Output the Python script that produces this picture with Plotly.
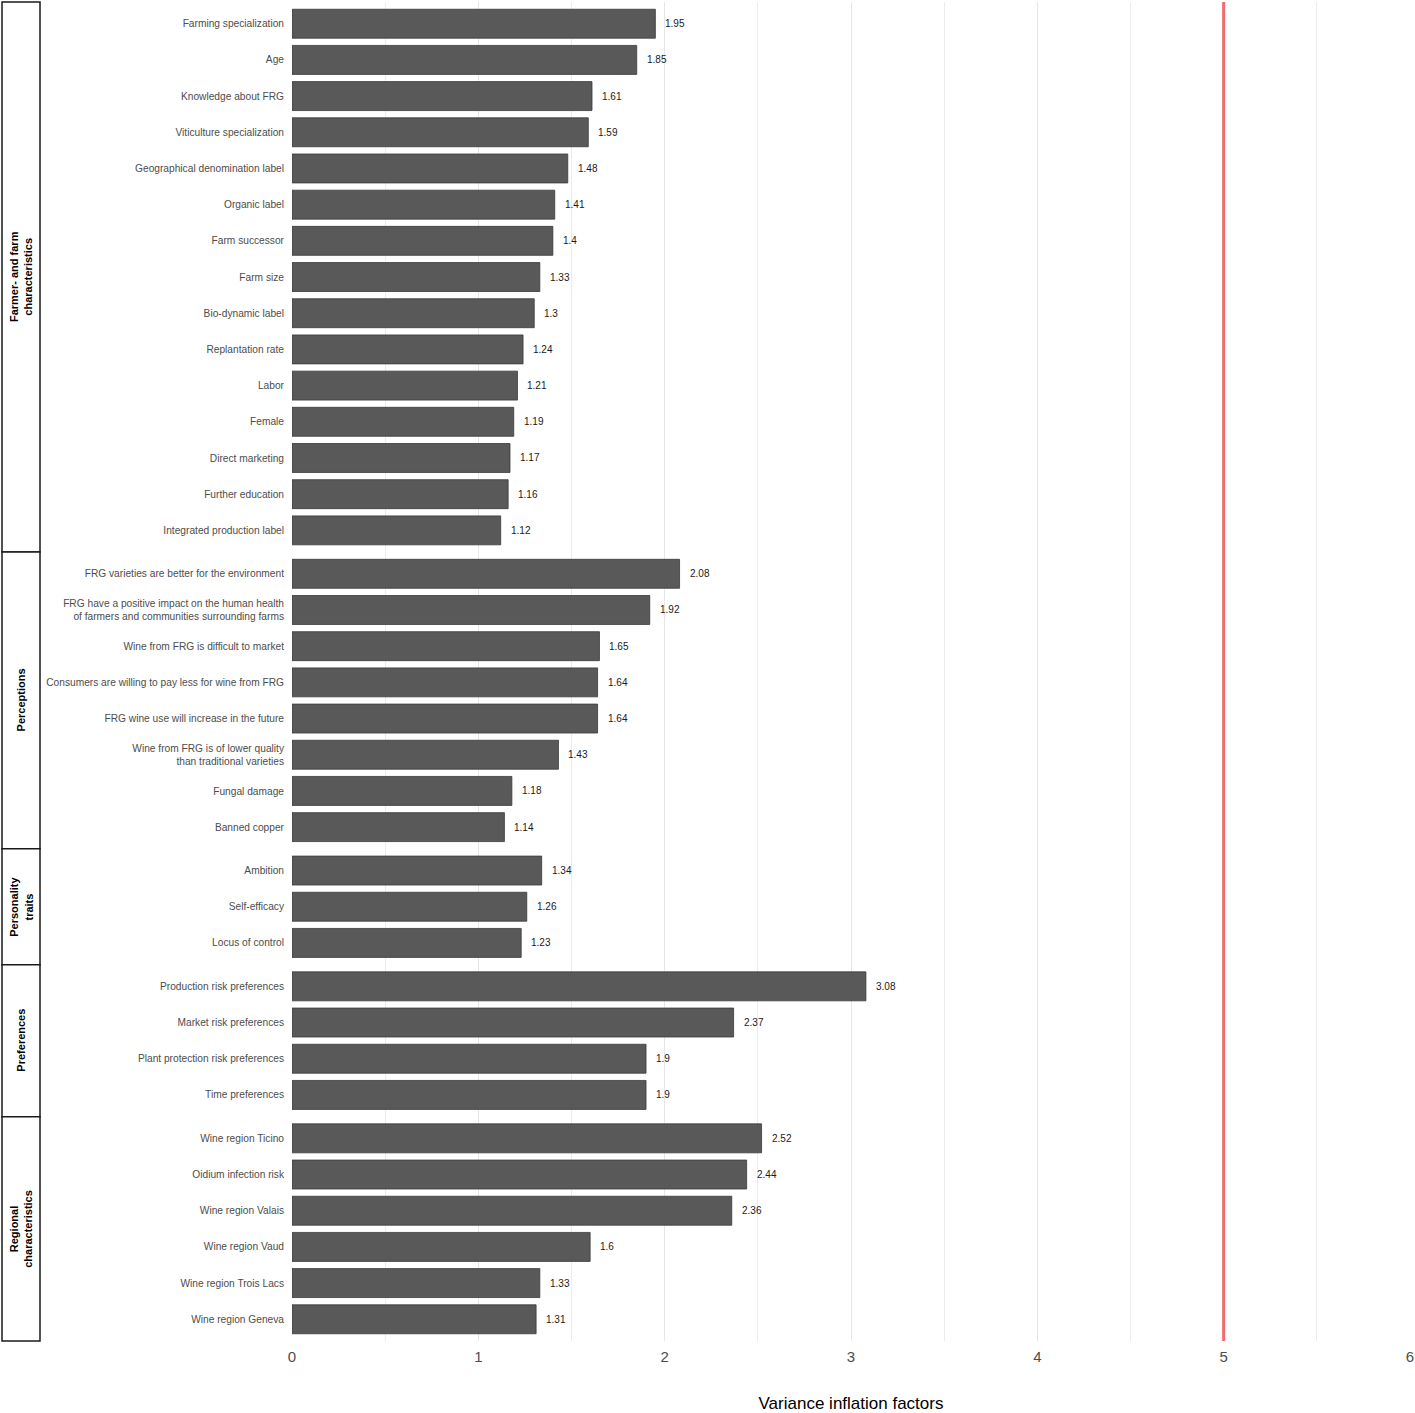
import plotly.graph_objects as go
from plotly.subplots import make_subplots

# ---- data ----
group_names = [
    "Farmer- and farm<br>characteristics",
    "Perceptions",
    "Personality<br>traits",
    "Preferences",
    "Regional<br>characteristics",
]

farm_labels = [
    "Farming specialization", "Age", "Knowledge about FRG", "Viticulture specialization",
    "Geographical denomination label", "Organic label", "Farm successor", "Farm size",
    "Bio-dynamic label", "Replantation rate", "Labor", "Female", "Direct marketing",
    "Further education", "Integrated production label",
]
farm_values = [1.95, 1.85, 1.61, 1.59, 1.48, 1.41, 1.4, 1.33, 1.3, 1.24, 1.21, 1.19, 1.17, 1.16, 1.12]

perc_labels = [
    "FRG varieties are better for the environment",
    "FRG have a positive impact on the human health<br>of farmers and communities surrounding farms",
    "Wine from FRG is difficult to market",
    "Consumers are willing to pay less for wine from FRG",
    "FRG wine use will increase in the future",
    "Wine from FRG is of lower quality<br>than traditional varieties",
    "Fungal damage",
    "Banned copper",
]
perc_values = [2.08, 1.92, 1.65, 1.64, 1.64, 1.43, 1.18, 1.14]

pers_labels = ["Ambition", "Self-efficacy", "Locus of control"]
pers_values = [1.34, 1.26, 1.23]

pref_labels = ["Production risk preferences", "Market risk preferences",
               "Plant protection risk preferences", "Time preferences"]
pref_values = [3.08, 2.37, 1.9, 1.9]

reg_labels = ["Wine region Ticino", "Oidium infection risk", "Wine region Valais",
              "Wine region Vaud", "Wine region Trois Lacs", "Wine region Geneva"]
reg_values = [2.52, 2.44, 2.36, 1.6, 1.33, 1.31]

threshold = 5
x_ticks = [0, 1, 2, 3, 4, 5, 6]

groups = [
    (farm_labels, farm_values),
    (perc_labels, perc_values),
    (pers_labels, pers_values),
    (pref_labels, pref_values),
    (reg_labels, reg_values),
]

# ---- layout geometry ----
W, H = 1415, 1413
ML, MR, MT, MB = 292, 5, 2, 72
plot_w = W - ML - MR

heights = [len(l) + 0.2 for l, _ in groups]
fig = make_subplots(rows=len(groups), cols=1, shared_xaxes=True,
                    vertical_spacing=0, row_heights=heights)

FONT = "Liberation Sans, Arial, sans-serif"
annotations = []
shapes = []

for i, (labels, values) in enumerate(groups, start=1):
    fig.add_trace(go.Bar(
        x=values, y=labels, orientation="h",
        marker=dict(color="#595959", line=dict(color="#3a3a3a", width=0.8)),
        width=0.8, showlegend=False, hoverinfo="x+y",
    ), row=i, col=1)
    n = len(labels)
    yname = "y" if i == 1 else f"y{i}"
    fig.update_yaxes(
        categoryorder="array", categoryarray=labels[::-1],
        range=[-0.6, n - 0.4], showgrid=False, zeroline=False,
        tickfont=dict(size=10.2, color="#4d4d4d", family=FONT),
        ticks="", ticklabelstandoff=7, automargin=False, row=i, col=1,
    )
    for lab, v in zip(labels, values):
        annotations.append(dict(
            x=v, y=lab, xref="x" if i == 1 else f"x{i}", yref=yname,
            text=f"{v:g}", showarrow=False, xanchor="left", xshift=8,
            font=dict(size=10, color="#1a1a1a", family=FONT),
        ))
    # strip box
    x0 = (2 - ML) / plot_w
    x1 = (40 - ML) / plot_w
    shapes.append(dict(type="rect", xref="paper", yref=f"{yname} domain",
                       x0=x0, x1=x1, y0=0, y1=1,
                       line=dict(color="#1a1a1a", width=1.5), fillcolor="white", layer="above"))
    annotations.append(dict(
        x=(x0 + x1) / 2, y=0.5, xref="paper", yref=f"{yname} domain",
        text=f"<b>{group_names[i-1]}</b>", textangle=-90, showarrow=False,
        xanchor="center", yanchor="middle",
        font=dict(size=11, color="#000000", family=FONT),
    ))

fig.update_xaxes(
    range=[0, 6], tickvals=x_ticks, showgrid=True, gridcolor="#e6e6e6", gridwidth=1,
    minor=dict(dtick=0.5, showgrid=True, gridcolor="#ececec", gridwidth=1),
    zeroline=False, ticks="", showline=False, automargin=False,
    tickfont=dict(size=15, color="#4d4d4d", family=FONT),
    ticklabelstandoff=5,
)
fig.update_xaxes(
    title=dict(text="Variance inflation factors", standoff=36,
               font=dict(size=17, color="#000000", family=FONT)),
    row=len(groups), col=1,
)

shapes.append(dict(type="line", xref="x", yref="paper", x0=threshold, x1=threshold,
                   y0=0, y1=1, line=dict(color="#f26a6a", width=3), layer="above"))

fig.update_layout(
    width=W, height=H, margin=dict(l=ML, r=MR, t=MT, b=MB, autoexpand=False),
    plot_bgcolor="white", paper_bgcolor="white",
    bargap=0.2, shapes=shapes, annotations=annotations,
    font=dict(family=FONT),
)

fig.write_html("out.html")
